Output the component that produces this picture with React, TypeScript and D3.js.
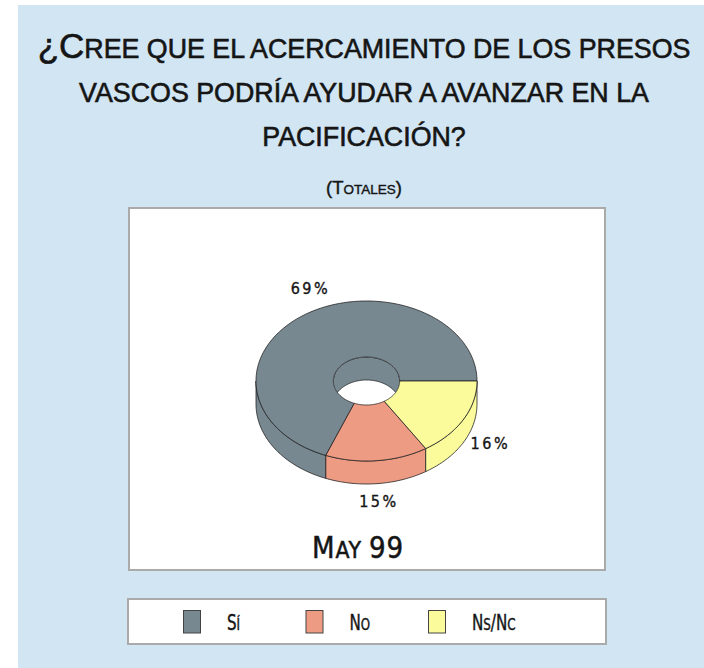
import * as d3 from "d3";

const categories = ["Sí", "No", "Ns/Nc"];
const values = [69, 15, 16];
const colors = ["#778891", "#ee9b83", "#fbfb9b"];
const titleLines = [
  "¿Cree que el acercamiento de los presos",
  "vascos podría ayudar a avanzar en la",
  "pacificación?",
];
const subtitle = "(Totales)";
const period = "May 99";

const W = 704;
const H = 668;
const FONT = "'Liberation Sans', Arial, sans-serif";
const NARROW = "'Liberation Sans Narrow', 'Arial Narrow', 'DejaVu Sans Condensed', sans-serif";

// pie geometry
const cx = 366.5;
const cy = 381;
const rx = 110.5;
const ry = 80;
const depth = 23;
const hole = 0.3;
// label offsets from the outer rim point at mid angle
const labelNudge = [
  [6, -21],
  [2, 46],
  [27, 29],
];

type Run = { t: string; big: boolean };

// fake small caps: capitals, digits and most punctuation big, the rest small
function smallCaps(s: string): Run[] {
  const runs: Run[] = [];
  for (const c of s) {
    const isLower = c !== c.toUpperCase();
    const big = !isLower && c !== " " && c !== "?";
    const t = c.toUpperCase();
    const last = runs[runs.length - 1];
    if (last && last.big === big) last.t += t;
    else runs.push({ t, big });
  }
  return runs;
}

function SC({ text, x, y, big, small, anchor = "middle", font = FONT, sx = 1, weight = 0, spacing = 0 }: {
  text: string; x: number; y: number; big: number; small: number; anchor?: string;
  font?: string; sx?: number; weight?: number; spacing?: number;
}) {
  return (
    <g transform={`translate(${x},${y}) scale(${sx},1)`}>
      <text textAnchor={anchor} fontFamily={font} fill="#151515" letterSpacing={spacing}
        stroke={weight ? "#151515" : "none"} strokeWidth={weight}>
        {smallCaps(text).map((r, i) => (
          <tspan key={i} fontSize={r.big ? big : small}>{r.t}</tspan>
        ))}
      </text>
    </g>
  );
}

const pt = (a: number, k: number, dy = 0): [number, number] => [
  cx + rx * k * Math.cos(a),
  cy + ry * k * Math.sin(a) + dy,
];

const line = d3.line();

function arcPts(a0: number, a1: number, k: number, dy = 0) {
  const n = Math.max(2, Math.ceil(Math.abs(a1 - a0) / 0.02));
  return d3.range(n + 1).map((i) => pt(a0 + ((a1 - a0) * i) / n, k, dy));
}

// overlap of [lo,hi] with intervals [base + 2πj, base + 2πj + π]
function overlaps(lo: number, hi: number, base: number) {
  const out: [number, number][] = [];
  for (let j = -2; j <= 1; j++) {
    const s = Math.max(lo, base + 2 * Math.PI * j);
    const e = Math.min(hi, base + 2 * Math.PI * j + Math.PI);
    if (e - s > 1e-6) out.push([s, e]);
  }
  return out;
}

export default function App() {
  const pie = d3.pie<number>().sort(null).startAngle(0).endAngle(-2 * Math.PI);
  const arcs = pie(values);

  const sides: { d: string; c: string }[] = [];
  const inner: { d: string; c: string }[] = [];
  arcs.forEach((a, i) => {
    const lo = Math.min(a.startAngle, a.endAngle);
    const hi = Math.max(a.startAngle, a.endAngle);
    overlaps(lo, hi, 0).forEach(([s, e]) => {
      const p = [...arcPts(s, e, 1), ...arcPts(e, s, 1, depth)];
      sides.push({ d: line(p)! + "Z", c: colors[i] });
    });
    overlaps(lo, hi, -Math.PI).forEach(([s, e]) => {
      const p = [...arcPts(s, e, hole), ...arcPts(e, s, hole, depth)];
      inner.push({ d: line(p)! + "Z", c: colors[i] });
    });
  });

  const tops = arcs.map((a, i) => {
    const p = [...arcPts(a.startAngle, a.endAngle, 1), ...arcPts(a.endAngle, a.startAngle, hole)];
    return { d: line(p)! + "Z", c: colors[i] };
  });

  const labels = arcs.map((a, i) => {
    const m = (a.startAngle + a.endAngle) / 2;
    const [x, y] = pt(m, 1);
    return { x: x + labelNudge[i][0], y: y + labelNudge[i][1], t: `${values[i]}%` };
  });

  const legendX = d3.scalePoint<string>().domain(categories).range([183.5, 428.5]);

  return (
    <svg width={W} height={H} style={{ position: "absolute", left: 0, top: 0 }}>
      <defs>
        <clipPath id="holeClip">
          <ellipse cx={cx} cy={cy} rx={rx * hole} ry={ry * hole} />
        </clipPath>
      </defs>
      <rect x={0} y={0} width={W} height={H} fill="#fff" />
      <rect x={18} y={5} width={W - 18} height={H - 5} fill="#d1e5f3" />

      {titleLines.map((t, i) => (
        <SC key={i} text={t} x={364} y={58 + i * 44} big={35} small={26.8} weight={0.6} />
      ))}
      <SC text={subtitle} x={364} y={194} big={18.5} small={13.5} weight={0.4} />

      <rect x={129} y={208} width={476} height={362} fill="#fff" stroke="#aaa" strokeWidth={2} />

      <g stroke="#222" strokeWidth={0.8} strokeLinejoin="round">
        {sides.map((s, i) => <path key={"s" + i} d={s.d} fill={s.c} />)}
        <g clipPath="url(#holeClip)">
          {inner.map((s, i) => <path key={"i" + i} d={s.d} fill={s.c} />)}
        </g>
        {tops.map((s, i) => <path key={"t" + i} d={s.d} fill={s.c} />)}
      </g>

      {labels.map((l, i) => (
        <text key={i} x={l.x} y={l.y} textAnchor="middle" fontFamily={NARROW} fontSize={16} letterSpacing={2.5}
          fill="#151515" stroke="#151515" strokeWidth={0.35}>
          {l.t}
        </text>
      ))}

      <SC text={period} x={358} y={558} big={30} small={23.5} font={NARROW} sx={0.97} spacing={0.8} weight={0.5} />

      <rect x={128} y={599} width={478} height={45} fill="#fff" stroke="#aaa" strokeWidth={2} />
      {categories.map((c, i) => (
        <g key={c}>
          <rect x={legendX(c)} y={610.5} width={17} height={22.5} fill={colors[i]} stroke="#444" strokeWidth={1} />
          <SC text={c} x={legendX(c)! + 43.5} y={629.5} big={21} small={16.5} anchor="start" font={NARROW} sx={0.8} weight={0.4} />
        </g>
      ))}
    </svg>
  );
}
